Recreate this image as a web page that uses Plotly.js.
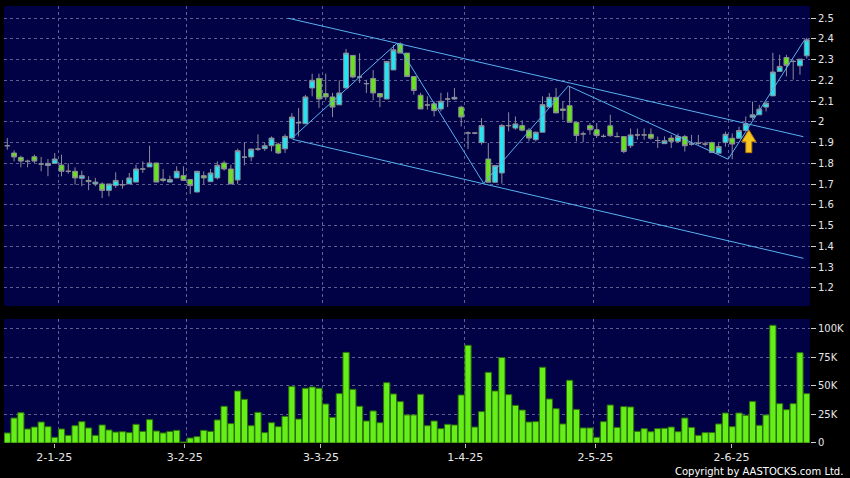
<!DOCTYPE html>
<html><head><meta charset="utf-8">
<script src="https://cdn.plot.ly/plotly-3.0.1.min.js"></script>
<style>html,body{margin:0;padding:0;background:#000;}#chart{width:850px;height:478px;}</style>
</head><body><div id="chart"></div>
<script>
// ---- data (one entry per trading day, index 0..118) ----
const openP = [1.885,1.850,1.829,1.810,1.832,1.797,1.790,1.800,1.792,1.762,1.762,1.728,1.718,1.701,1.701,1.670,1.693,1.697,1.701,1.710,
1.773,1.783,1.802,1.725,1.710,1.730,1.741,1.722,1.662,1.741,1.712,1.730,1.802,1.773,1.720,1.830,1.831,1.869,1.871,1.885,
1.893,1.870,1.922,1.994,1.991,2.163,2.209,2.136,2.120,2.082,2.163,2.320,2.216,2.184,2.209,2.136,2.110,2.250,2.375,2.331,
2.218,2.128,2.081,2.087,2.062,2.110,2.110,2.071,1.946,1.946,1.900,1.821,1.709,1.754,1.982,1.970,1.982,1.960,1.914,1.950,
2.071,2.118,2.062,2.078,1.998,1.942,1.982,1.962,1.930,1.981,1.929,1.929,1.885,1.937,1.937,1.940,1.910,1.895,1.922,1.906,
1.929,1.893,1.897,1.893,1.900,1.849,1.900,1.921,1.921,1.958,2.022,2.034,2.071,2.125,2.243,2.310,2.291,2.270,2.318];
const highP = [1.922,1.863,1.837,1.818,1.842,1.831,1.821,1.850,1.842,1.800,1.781,1.765,1.738,1.730,1.709,1.701,1.757,1.720,1.754,1.794,
1.810,1.885,1.802,1.773,1.741,1.786,1.786,1.722,1.762,1.762,1.773,1.810,1.813,1.794,1.871,1.901,1.869,1.940,1.900,1.930,
1.900,1.940,2.042,2.066,2.130,2.232,2.232,2.232,2.140,2.200,2.351,2.320,2.330,2.203,2.250,2.136,2.291,2.370,2.383,2.331,
2.218,2.140,2.123,2.099,2.140,2.142,2.163,2.078,1.954,1.950,2.018,1.898,1.790,1.990,2.046,2.026,2.007,1.970,1.954,2.123,
2.139,2.163,2.099,2.168,1.998,1.954,1.994,1.994,1.940,2.034,1.950,1.929,1.968,1.968,1.968,1.968,1.929,1.930,1.937,1.944,
1.937,1.937,1.937,1.905,1.905,1.897,1.953,1.944,1.977,2.026,2.098,2.082,2.098,2.333,2.323,2.323,2.299,2.302,2.405];
const lowP = [1.866,1.810,1.781,1.781,1.802,1.762,1.738,1.800,1.738,1.750,1.698,1.690,1.671,1.690,1.633,1.641,1.682,1.678,1.701,1.710,
1.754,1.783,1.710,1.709,1.709,1.730,1.718,1.652,1.662,1.698,1.710,1.722,1.765,1.701,1.701,1.790,1.810,1.860,1.860,1.858,
1.845,1.850,1.918,1.930,1.991,2.123,2.066,2.104,2.023,2.082,2.163,2.210,2.187,2.139,2.104,2.071,2.110,2.250,2.331,2.218,
2.131,2.062,2.059,2.026,2.050,2.071,2.107,1.978,1.869,1.940,1.890,1.709,1.709,1.702,1.954,1.962,1.954,1.906,1.906,1.950,
2.071,2.043,2.010,1.998,1.906,1.903,1.938,1.922,1.925,1.929,1.926,1.849,1.874,1.914,1.914,1.914,1.874,1.895,1.874,1.900,
1.857,1.885,1.890,1.882,1.852,1.849,1.881,1.820,1.921,1.958,2.010,2.034,2.050,2.125,2.243,2.219,2.203,2.227,2.305];
const closeP = [1.885,1.831,1.811,1.810,1.811,1.797,1.800,1.821,1.762,1.762,1.730,1.741,1.712,1.710,1.670,1.701,1.718,1.697,1.730,1.773,
1.773,1.802,1.710,1.718,1.722,1.762,1.718,1.693,1.762,1.730,1.754,1.791,1.773,1.701,1.861,1.830,1.869,1.869,1.885,1.922,
1.850,1.930,2.023,1.997,2.120,2.200,2.110,2.120,2.071,2.139,2.331,2.216,2.216,2.184,2.139,2.120,2.291,2.347,2.331,2.218,
2.151,2.062,2.081,2.054,2.099,2.110,2.118,2.023,1.946,1.946,1.982,1.709,1.790,1.982,1.982,1.990,1.960,1.922,1.950,2.083,
2.118,2.043,2.055,1.998,1.934,1.942,1.962,1.934,1.930,1.933,1.929,1.857,1.937,1.937,1.937,1.921,1.910,1.909,1.906,1.929,
1.885,1.893,1.897,1.893,1.852,1.881,1.940,1.893,1.958,1.990,2.034,2.061,2.090,2.240,2.267,2.272,2.291,2.302,2.395];
const volume = [8800,21900,26600,12300,14000,18400,14300,5000,12300,6700,15200,18700,13200,6700,15800,11400,9600,9900,9100,16400,
10200,20500,10500,8800,10200,11100,900,4400,5600,11100,10200,20200,32200,17000,45600,38300,15200,26900,9100,17800,
14300,23400,49700,21000,48000,49100,48000,34200,22500,43300,79500,47100,32200,19300,28100,17800,52900,43000,36300,24600,
24600,42700,15200,19300,12600,16400,15800,42100,85700,14000,27500,62000,45600,74900,42400,33000,28900,18400,18700,66400,
38600,30100,16700,55000,29500,13200,13200,5000,18700,33300,13700,31900,31600,10200,12600,9900,12600,12900,14000,9900,
21900,13700,6700,9100,9100,16700,26300,14300,26300,24300,36500,15500,24600,103200,34500,29200,34500,79200,43300];
const dayIndex = openP.map((_, i) => i);

// date tick labels (d-m-yy) and price / volume tick labels
const dateLabels = ['2-1-25','3-2-25','3-3-25','1-4-25','2-5-25','2-6-25'];
const priceTicks = [1.2,1.3,1.4,1.5,1.6,1.7,1.8,1.9,2.0,2.1,2.2,2.3,2.4,2.5];
const priceTickText = ['1.2','1.3','1.4','1.5','1.6','1.7','1.8','1.9','2','2.1','2.2','2.3','2.4','2.5'];
const volTicks = [0,25000,50000,75000,100000];
const volTickText = ['0','25K','50K','75K','100K'];

// trend-line annotations drawn on the chart (day index, price)
const zigzagIdx = [42, 57.5, 70.3, 82.8, 106.4, 117.6];
const zigzagPrice = [1.921, 2.378, 1.704, 2.173, 1.820, 2.391];
const upperIdx = [41.5, 117.5];
const upperPrice = [2.4986, 1.9285];
const lowerIdx = [42.1, 117.5];
const lowerPrice = [1.916, 1.343];
const arrowIdx = 109.45, arrowTip = 1.961;

// ---- layout constants ----
const tickPos = [6.94, 26.2, 46.3, 67.6, 86.8, 106.9];
const gridPos = [7.5, 26.4, 46.5, 67.5, 86.5, 106.5];
const xRange = [-0.487, 118.48];
const gridColor = '#5e5e90';
const lineBlue = '#58b2ee';
const font = {family: 'DejaVu Sans, Verdana, sans-serif', size: 10, color: '#e6e6e6'};

const traces = [
  {type: 'candlestick', x: dayIndex, open: openP, high: highP, low: lowP, close: closeP,
   xaxis: 'x', yaxis: 'y', hoverinfo: 'skip',
   increasing: {line: {color: '#8c8c96', width: 1}, fillcolor: '#22e4f2'},
   decreasing: {line: {color: '#8c8c96', width: 1}, fillcolor: '#68e21c'}},
  {type: 'scatter', mode: 'lines', x: upperIdx, y: upperPrice, xaxis: 'x', yaxis: 'y',
   line: {color: lineBlue, width: 1}, hoverinfo: 'skip'},
  {type: 'scatter', mode: 'lines', x: lowerIdx, y: lowerPrice, xaxis: 'x', yaxis: 'y',
   line: {color: lineBlue, width: 1}, hoverinfo: 'skip'},
  {type: 'scatter', mode: 'lines', x: zigzagIdx, y: zigzagPrice, xaxis: 'x', yaxis: 'y',
   line: {color: lineBlue, width: 1}, hoverinfo: 'skip'},
  {type: 'bar', x: dayIndex, y: volume, xaxis: 'x2', yaxis: 'y2', hoverinfo: 'skip',
   marker: {color: '#66ee18', line: {color: '#2c6e0c', width: 1}}}
];

// block arrow (offsets in index / price units around its anchor)
const hw = 1.06, sw = 0.44, headDrop = 0.0564, tail = 0.1093;
const arrowPath = `M ${arrowIdx} ${arrowTip} L ${arrowIdx + hw} ${arrowTip - headDrop} L ${arrowIdx + sw} ${arrowTip - headDrop} ` +
  `L ${arrowIdx + sw} ${arrowTip - tail} L ${arrowIdx - sw} ${arrowTip - tail} L ${arrowIdx - sw} ${arrowTip - headDrop} ` +
  `L ${arrowIdx - hw} ${arrowTip - headDrop} Z`;

const layout = {
  width: 850, height: 478,
  margin: {l: 4, r: 40, t: 6, b: 35},
  paper_bgcolor: '#000000', plot_bgcolor: '#010146',
  showlegend: false, bargap: 0.08, hovermode: false,
  boxgap: 0.28, boxgroupgap: 0,
  font: font,
  xaxis: {domain: [0, 1], anchor: 'y', range: xRange, tickmode: 'array', tickvals: gridPos,
          showticklabels: false, ticks: '', showgrid: true, gridcolor: gridColor, griddash: '3px,3px',
          zeroline: false, showline: false, rangeslider: {visible: false}, fixedrange: true},
  yaxis: {domain: [0.3135, 1], anchor: 'x', side: 'right', range: [1.1133, 2.5578],
          tickmode: 'array', tickvals: priceTicks, ticktext: priceTickText,
          ticks: 'outside', ticklen: 5, tickcolor: '#cfcfcf', tickfont: font,
          showgrid: true, gridcolor: gridColor, griddash: '3px,3px', zeroline: false, showline: false},
  xaxis2: {domain: [0, 1], anchor: 'y2', range: xRange, tickmode: 'array', tickvals: tickPos, ticktext: dateLabels,
           ticks: 'outside', ticklen: 4, tickcolor: '#bdbdbd', tickfont: {family: font.family, size: 11, color: '#e6e6e6'},
           showgrid: false, zeroline: false, showline: false,
           minor: {tickmode: 'array', tickvals: gridPos, showgrid: true, gridcolor: gridColor, griddash: '3px,3px', ticks: ''}},
  yaxis2: {domain: [0, 0.2838], anchor: 'x2', side: 'right', range: [0, 108750],
           tickmode: 'array', tickvals: volTicks, ticktext: volTickText,
           ticks: 'outside', ticklen: 5, tickcolor: '#cfcfcf', tickfont: font,
           showgrid: true, gridcolor: gridColor, griddash: '3px,3px', zeroline: false, showline: false},
  shapes: [
    {type: 'path', xref: 'x', yref: 'y', path: arrowPath, fillcolor: '#f7c520',
     line: {color: '#c07a08', width: 1}, layer: 'above'}
  ],
  annotations: [
    {text: 'Copyright by AASTOCKS.com Ltd.', xref: 'paper', yref: 'paper', x: 1.0434, y: -0.0657,
     xanchor: 'right', yanchor: 'middle', showarrow: false, font: {family: font.family, size: 10, color: '#ffffff'}}
  ]
};

Plotly.newPlot('chart', traces, layout, {staticPlot: true, displayModeBar: false});
</script>
</body></html>
